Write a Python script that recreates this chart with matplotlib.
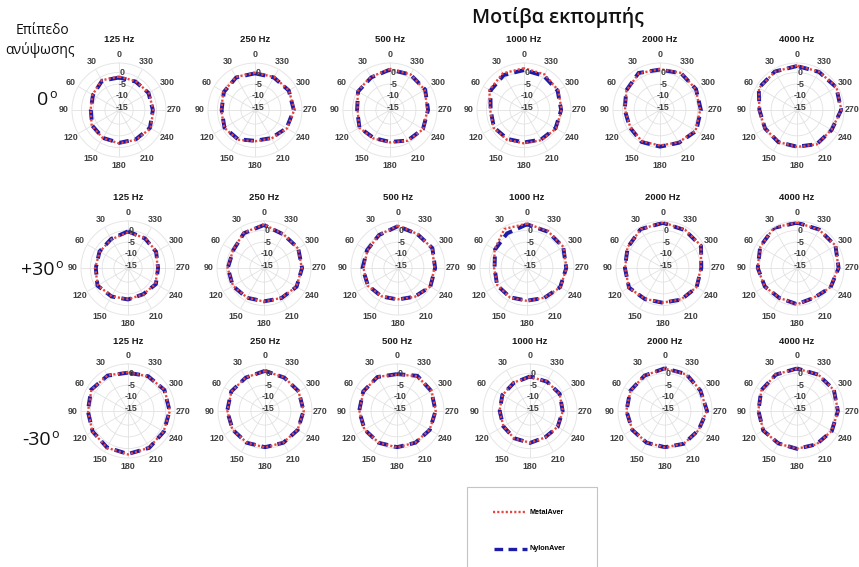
import numpy as np
import matplotlib
matplotlib.use("Agg")
import matplotlib.pyplot as plt
from matplotlib.lines import Line2D
from matplotlib.patches import Rectangle

# ---------------- data ----------------
angles_deg = [0, 30, 60, 90, 120, 150, 180, 210, 240, 270, 300, 330]
freq_labels = ["125 Hz", "250 Hz", "500 Hz", "1000 Hz", "2000 Hz", "4000 Hz"]
elev_labels = ["0", "+30", "-30"]
r_ticks = [-15, -10, -5, 0]
series_labels = ["MetalAver", "NylonAver"]

# elevation 0 deg : one list of 12 values (dB) per frequency
metal_elev0 = [
    [-1.8, -1.4, -3.0, -3.9, -2.6, -2.2, -1.8, -1.4, -0.5, -1.4, -1.4, -1.8],
    [-0.2, 0.2, -0.5, -1.6, -0.9, -1.4, -2.7, -2.0, -0.3, 0.7, 0.7, 0.2],
    [1.4, 0.3, -0.1, -2.2, -0.9, -2.0, -2.2, -0.9, 0.3, -0.1, 1.1, 1.5],
    [1.8, 2.0, 1.0, -1.6, -1.0, -1.4, -1.8, -1.2, -0.3, 0.0, 0.8, 1.5],
    [1.4, 2.0, 0.5, -1.1, -1.4, -0.6, -0.9, -0.1, 1.5, 1.1, 1.6, 2.2],
    [2.9, 2.8, 2.7, 0.1, -0.2, -0.3, -0.3, 0.9, 0.9, 2.9, 3.4, 2.8],
]
nylon_elev0 = [
    [-2.2, -1.6, -3.2, -4.0, -2.8, -2.3, -2.0, -1.6, -0.8, -1.6, -1.5, -2.0],
    [-0.4, 0.0, -0.7, -1.8, -1.0, -1.6, -2.9, -2.2, -0.5, 0.5, 0.6, 0.0],
    [1.2, 0.0, -0.3, -2.0, -1.0, -2.2, -2.4, -1.0, 0.2, 0.2, 1.3, 1.4],
    [1.0, 1.2, 0.5, -1.8, -1.2, -1.8, -2.2, -1.5, -0.5, -0.2, 0.5, 0.8],
    [1.2, 2.2, 0.6, -1.0, -1.2, -0.3, -0.4, 0.1, 1.8, 1.4, 1.7, 2.0],
    [2.7, 2.9, 2.8, 0.0, -0.3, -0.2, -0.4, 0.8, 1.0, 2.8, 3.3, 2.7],
]
# elevation +30 deg
metal_elev_p30 = [
    [-0.8, -1.9, -2.1, -2.0, -1.2, -2.1, -2.7, -3.0, -2.5, -3.4, -2.1, -1.3],
    [2.5, 1.3, -0.8, -0.5, -0.8, -1.5, -1.7, -1.3, -0.1, 0.1, 0.7, 0.6],
    [2.0, 0.3, -1.0, -1.3, -1.0, -2.1, -2.7, -1.8, -0.2, -0.5, 0.8, 0.7],
    [2.9, 3.2, -0.1, -2.0, -1.4, -1.5, -2.0, -1.4, 0.4, 0.8, 1.9, 2.0],
    [3.4, 3.0, 1.5, 0.1, 0.8, -0.8, -1.3, -0.6, 0.4, 0.1, 2.8, 2.8],
    [3.4, 3.8, 2.0, 0.8, -0.1, -1.3, -0.5, -1.5, 0.4, 1.6, 3.0, 2.8],
]
nylon_elev_p30 = [
    [-0.4, -1.7, -2.0, -2.3, -1.0, -2.0, -2.6, -3.1, -2.3, -3.2, -2.2, -1.5],
    [2.3, 1.1, -0.9, -0.6, -0.7, -1.4, -1.8, -1.2, 0.0, 0.2, 0.8, 0.5],
    [1.8, 0.2, -0.8, -0.9, -1.2, -2.0, -2.6, -1.9, -0.1, -0.2, 0.9, 0.6],
    [2.6, 1.0, -0.3, -2.2, -1.3, -1.6, -2.1, -1.3, 0.3, 0.7, 1.8, 1.8],
    [3.2, 3.1, 1.4, 0.2, 0.7, -0.7, -1.2, -0.5, 0.5, 0.3, 2.7, 2.6],
    [3.3, 3.7, 2.1, 0.7, -0.2, -1.2, -0.6, -1.4, 0.5, 1.7, 2.9, 2.9],
]
# elevation -30 deg
metal_elev_m30 = [
    [0.5, 1.5, 2.0, 1.0, 1.5, 2.0, 2.5, 2.0, 1.5, 1.8, 2.0, 1.0],
    [1.0, 0.5, 0.5, 0.0, 0.0, -0.5, -0.5, -0.5, 0.0, 0.5, 0.5, 0.5],
    [-0.5, 0.8, 0.5, 0.0, 0.0, -0.5, -0.5, -0.5, 0.0, 0.5, 1.0, 1.2],
    [-1.5, -2.0, -2.5, -3.0, -3.0, -2.5, -2.5, -3.0, -2.5, -2.0, -1.5, -1.5],
    [2.0, 1.5, 1.0, 0.5, 0.0, -0.5, -0.5, 0.0, 0.5, 1.8, 1.5, 2.0],
    [2.0, 2.0, 1.5, 0.5, 0.5, 0.0, 0.0, 0.5, 1.0, 1.5, 2.0, 2.0],
]
nylon_elev_m30 = [
    [0.3, 1.4, 2.1, 1.1, 1.4, 1.9, 2.3, 2.1, 1.6, 1.7, 1.9, 1.1],
    [1.1, 0.4, 0.6, 0.1, -0.1, -0.4, -0.6, -0.4, 0.1, 0.4, 0.6, 0.4],
    [-0.3, 0.7, 0.6, 0.1, -0.1, -0.4, -0.6, -0.4, 0.1, 0.4, 0.9, 1.3],
    [-1.3, -2.2, -2.4, -3.1, -2.9, -2.6, -2.4, -3.1, -2.4, -2.1, -1.4, -1.6],
    [2.2, 1.4, 1.1, 0.4, 0.1, -0.4, -0.6, 0.1, 0.4, 1.9, 1.4, 2.1],
    [2.1, 1.9, 1.6, 0.4, 0.6, -0.1, 0.1, 0.4, 1.1, 1.4, 2.1, 1.9],
]

metal_rows = [metal_elev0, metal_elev_p30, metal_elev_m30]
nylon_rows = [nylon_elev0, nylon_elev_p30, nylon_elev_m30]

# ---------------- layout ----------------
W, H = 859, 567
fig = plt.figure(figsize=(W / 100, H / 100), dpi=100)
fig.patch.set_facecolor("white")

R_MIN, R_MAX = -16, 4
RAD = 47  # pixel radius of each polar axes
col_x = [[119, 255, 390, 524, 660, 797],
         [128, 264, 398, 527, 663, 797],
         [128, 265, 397, 530, 665, 797]]
row_y = [110, 268, 411]

TICK_FONT = "Liberation Sans"
RED = "#e8453c"
BLUE = "#1c1ca8"

for i in range(3):
    for j in range(6):
        cx, cy = col_x[i][j], row_y[i]
        ax = fig.add_axes([(cx - RAD) / W, 1 - (cy + RAD) / H, 2 * RAD / W, 2 * RAD / H],
                          projection="polar")
        ax.set_theta_zero_location("N")
        ax.set_theta_direction(1)
        ax.set_ylim(R_MIN, R_MAX)
        th = np.deg2rad(angles_deg + [angles_deg[0]])
        ny = nylon_rows[i][j]
        me = metal_rows[i][j]
        ax.plot(th, ny + [ny[0]], color=BLUE, lw=2.8, ls=(0, (2.6, 1.6)), solid_capstyle="butt")
        ax.plot(th, me + [me[0]], color=RED, lw=1.7, ls=(0, (0.9, 0.9)))
        ax.set_xticks(np.deg2rad(angles_deg))
        ax.set_xticklabels([])
        ax.set_yticks(r_ticks)
        ax.set_yticklabels([])
        ax.grid(color="#e2e2e2", lw=0.6)
        ax.spines["polar"].set_color("#e6e6e6")
        ax.spines["polar"].set_linewidth(0.7)
        for a in angles_deg:
            ax.text(np.deg2rad(a), R_MAX + 3.6, str(a), ha="center", va="center",
                    fontsize=6.4, fontweight="bold", color="#404040",
                    family=TICK_FONT, clip_on=False)
        for r in r_ticks:
            ax.annotate(str(r), (0, r), xytext=(2.5, 0), textcoords="offset points",
                        ha="center", va="center", fontsize=6.4, fontweight="bold",
                        color="#404040", family=TICK_FONT)
        fig.text(cx / W, 1 - (cy - 70) / H, freq_labels[j], ha="center", va="center",
                 fontsize=6.8, fontweight="bold", family=TICK_FONT, color="#1a1a1a")

# main title
fig.text(558 / W, 1 - 18 / H, "Μοτίβα εκπομπής", ha="center", va="center",
         fontsize=14, fontweight="semibold", family=["Open Sans", "DejaVu Sans"], color="#111111")

# left labels
fig.text(42 / W, 1 - 31 / H, "Επίπεδο", ha="center", va="center", fontsize=10,
         family=["Open Sans", "DejaVu Sans"], color="#111111")
fig.text(40 / W, 1 - 50 / H, "ανύψωσης", ha="center", va="center", fontsize=10,
         family=["Open Sans", "DejaVu Sans"], color="#111111")
elev_pos = [(37, 100), (21, 270), (22, 440)]
fig.canvas.draw()
for lab, (x, y) in zip(elev_labels, elev_pos):
    t = fig.text(x / W, 1 - y / H, lab, ha="left", va="center", fontsize=14,
                 family=["Open Sans", "DejaVu Sans"], color="#111111")
    bb = t.get_window_extent(renderer=fig.canvas.get_renderer())
    fig.text((bb.x1 + 0.5) / W, (bb.y1 - 4) / H, "o", ha="left", va="center", fontsize=9,
             family=["Open Sans", "DejaVu Sans"], color="#111111")

# legend box
fig.add_artist(Rectangle((467 / W, -0.02), 130 / W, (567 - 487) / H + 0.02,
                         transform=fig.transFigure, fill=False, ec="#c4c4c4", lw=0.8))
fig.add_artist(Line2D([493 / W, 527 / W], [1 - 512 / H] * 2, transform=fig.transFigure,
                      color=RED, lw=1.7, ls=(0, (0.9, 0.9))))
fig.text(529 / W, 1 - 512 / H, series_labels[0], ha="left", va="center", fontsize=5.2,
         fontweight="bold", family=TICK_FONT)
fig.add_artist(Line2D([494 / W, 527 / W], [1 - 549 / H] * 2, transform=fig.transFigure,
                      color=BLUE, lw=2.4, ls=(0, (2.6, 1.6))))
fig.text(529 / W, 1 - 549 / H, series_labels[1], ha="left", va="center", fontsize=5.2,
         fontweight="bold", family=TICK_FONT)

fig.savefig("out.png", dpi=100)
